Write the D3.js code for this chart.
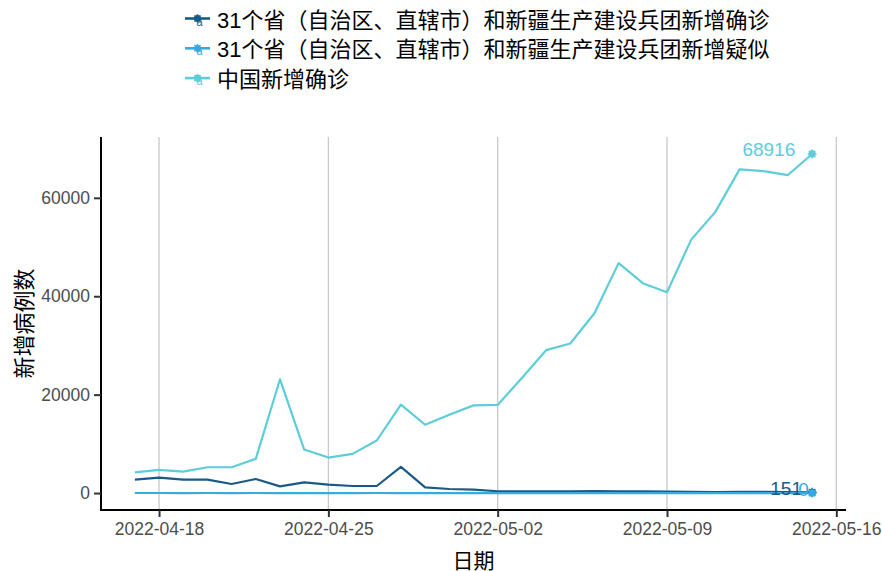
<!DOCTYPE html>
<html><head><meta charset="utf-8">
<script src="https://cdn.jsdelivr.net/npm/d3@7"></script>
<style>
html,body{margin:0;padding:0;background:#fff;}
svg{display:block;font-family:"Liberation Sans","Noto Sans CJK SC",sans-serif;}
</style></head>
<body><svg id="chart" width="882" height="571"></svg>
<script>
// ---- data ----
const dates = ["2022-04-17","2022-04-18","2022-04-19","2022-04-20","2022-04-21","2022-04-22","2022-04-23",
  "2022-04-24","2022-04-25","2022-04-26","2022-04-27","2022-04-28","2022-04-29","2022-04-30",
  "2022-05-01","2022-05-02","2022-05-03","2022-05-04","2022-05-05","2022-05-06","2022-05-07",
  "2022-05-08","2022-05-09","2022-05-10","2022-05-11","2022-05-12","2022-05-13","2022-05-14","2022-05-15"];
const seriesNames = ["31个省（自治区、直辖市）和新疆生产建设兵团新增确诊",
                     "31个省（自治区、直辖市）和新疆生产建设兵团新增疑似",
                     "中国新增确诊"];
const provConfirmed = [2720,3130,2720,2720,1840,2860,1360,2180,1700,1430,1430,5310,1160,820,
  680,360,330,340,350,400,360,320,280,250,200,230,260,180,151];
const provSuspected = [6,5,4,6,3,5,2,4,3,2,5,4,3,1,2,1,3,2,2,1,1,2,1,0,1,1,0,1,0];
const chinaConfirmed = [4220,4700,4350,5240,5240,6940,23120,8840,7210,7960,10680,17960,13880,15920,
  17820,17900,23400,29040,30400,36530,46730,42650,40820,51500,57140,65780,65440,64630,68916];
const colors = ["#1b5a86","#36aae2","#5dcdda"];
const xTickLabels = ["2022-04-18","2022-04-25","2022-05-02","2022-05-09","2022-05-16"];
const yTickValues = [0,20000,40000,60000];
const xTitle = "日期", yTitle = "新增病例数";

// ---- layout ----
const svg = d3.select("#chart");
const L = 101, R = 846, T = 137, B = 510;
const parse = d3.timeParse("%Y-%m-%d");
const dts = dates.map(parse);
const span = dts[dts.length-1] - dts[0];
const x = d3.scaleTime().domain([new Date(+dts[0] - span*0.05), new Date(+dts[dts.length-1] + span*0.05)]).range([L, R]);
const allVals = provConfirmed.concat(provSuspected, chinaConfirmed);
const ymin = d3.min(allVals), ymax = d3.max(allVals), yr = ymax - ymin;
const y = d3.scaleLinear().domain([ymin - yr*0.05, ymax + yr*0.05]).range([B, T]);

// gridlines
const xTicks = xTickLabels.map(parse);
svg.append("g").selectAll("line").data(xTicks).join("line")
  .attr("x1", d=>x(d)).attr("x2", d=>x(d)).attr("y1", T).attr("y2", B)
  .attr("stroke", "#c9c9c9").attr("stroke-width", 1.3);

// axes
const xAxis = svg.append("g").attr("transform", `translate(0,${B})`)
  .call(d3.axisBottom(x).tickValues(xTicks).tickFormat(d3.timeFormat("%Y-%m-%d")).tickSize(7).tickPadding(6).tickSizeOuter(0));
const yAxis = svg.append("g").attr("transform", `translate(${L},0)`)
  .call(d3.axisLeft(y).tickValues(yTickValues).tickFormat(d3.format("d")).tickSize(7).tickPadding(4).tickSizeOuter(0));
[xAxis, yAxis].forEach(a => {
  a.select(".domain").attr("stroke", "#000").attr("stroke-width", 2);
  a.selectAll(".tick line").attr("stroke", "#333").attr("stroke-width", 2);
  a.selectAll(".tick text").attr("fill", "#4d4d4d").attr("font-size", 17.5)
    .attr("font-family", "Liberation Sans, sans-serif");
});
xAxis.select(".domain").attr("d", `M${L-1},0H${R}`);
yAxis.select(".domain").attr("d", `M0,${T}V${B+1}`);

// axis titles
svg.append("text").attr("x", (L+R)/2).attr("y", 560).attr("text-anchor","middle")
  .attr("dominant-baseline","central").attr("font-size", 21).attr("fill","#000").text(xTitle);
svg.append("text").attr("transform", `translate(24,${(T+B)/2}) rotate(-90)`).attr("text-anchor","middle")
  .attr("dominant-baseline","central").attr("font-size", 22).attr("fill","#000").text(yTitle);

// lines
const series = [provConfirmed, provSuspected, chinaConfirmed];
const line = d3.line().x((d,i)=>x(dts[i])).y(d=>y(d));
const g = svg.append("g");
series.forEach((s, k) => {
  g.append("path").datum(s).attr("d", line).attr("fill","none")
    .attr("stroke", colors[k]).attr("stroke-width", 2.2).attr("stroke-linejoin","round");
});
function marker(sel, cx, cy, col, r) {
  sel.append("circle").attr("cx", cx).attr("cy", cy).attr("r", r).attr("fill", col);
  for (let a = 0; a < 4; a++) {
    const ang = a*Math.PI/4;
    sel.append("line").attr("x1", cx - Math.cos(ang)*r*1.25).attr("x2", cx + Math.cos(ang)*r*1.25)
      .attr("y1", cy - Math.sin(ang)*r*1.25).attr("y2", cy + Math.sin(ang)*r*1.25)
      .attr("stroke", col).attr("stroke-width", 1.5);
  }
}
series.forEach((s, k) => {
  const n = s.length - 1;
  const px = x(dts[n]), py = y(s[n]);
  marker(g, px, py, colors[k], 3.6);
  const t = g.append("text").attr("x", px).attr("y", py + 2.5).attr("text-anchor","end")
    .attr("font-size", 19).attr("fill", colors[k]).attr("font-family","Liberation Sans, sans-serif")
    .text(d3.format("d")(s[n]));
  const w = t.node().getComputedTextLength();
  t.attr("x", px - 0.32*w);
});

// legend
const lg = svg.append("g");
seriesNames.forEach((name, k) => {
  const cy = 18.5 + k*29.8;
  lg.append("line").attr("x1", 185).attr("x2", 210).attr("y1", cy).attr("y2", cy)
    .attr("stroke", colors[k]).attr("stroke-width", 2.6);
  marker(lg, 197.5, cy, colors[k], 3.4);
  lg.append("text").attr("x", 199.5).attr("y", cy + 7).attr("text-anchor","middle")
    .attr("font-size", 11).attr("fill", colors[k]).text("a");
  lg.append("text").attr("x", 217).attr("y", cy + 1.5).attr("dominant-baseline","central")
    .attr("font-size", 22).attr("fill", "#000").text(name);
});
</script></body></html>
